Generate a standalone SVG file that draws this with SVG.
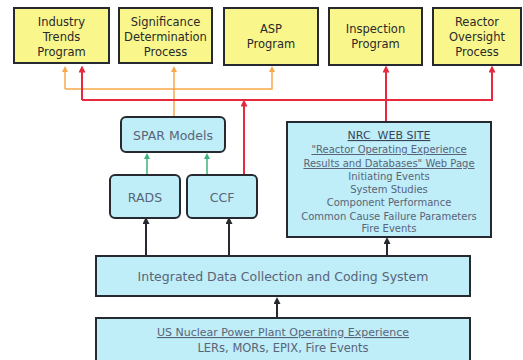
<svg xmlns="http://www.w3.org/2000/svg" width="523" height="360" viewBox="0 0 523 360">
<defs>
<style>
.y{fill:#f9f68c;stroke:#262a30;stroke-width:2}
.b{fill:#bfeef8;stroke:#262a30;stroke-width:2}
.tt{font-family:"DejaVu Sans",sans-serif;font-size:11.5px;fill:#2a2a2a;text-anchor:middle}
.bt{font-family:"DejaVu Sans",sans-serif;font-size:12.5px;fill:#5a6478;text-anchor:middle}
.nt{font-family:"DejaVu Sans",sans-serif;font-size:10px;fill:#5a6478;text-anchor:middle}
.u{text-decoration:underline}
.or{stroke:#f7a84a;stroke-width:1.5;fill:none}
.rd{stroke:#e8283c;stroke-width:2;fill:none}
.gr{stroke:#3cb47a;stroke-width:1.5;fill:none}
.bk{stroke:#262a30;stroke-width:2;fill:none}
</style>
<marker id="ao" markerWidth="6" markerHeight="6" refX="3" refY="3" orient="auto" markerUnits="userSpaceOnUse"><path d="M0,0L6,3L0,6z" fill="#f7a84a"/></marker>
<marker id="ar" markerWidth="7" markerHeight="7" refX="3.5" refY="3.5" orient="auto" markerUnits="userSpaceOnUse"><path d="M0,0L7,3.5L0,7z" fill="#e8283c"/></marker>
<marker id="ag" markerWidth="6" markerHeight="6" refX="3" refY="3" orient="auto" markerUnits="userSpaceOnUse"><path d="M0,0L6,3L0,6z" fill="#3cb47a"/></marker>
<marker id="ak" markerWidth="7" markerHeight="7" refX="4" refY="3.5" orient="auto" markerUnits="userSpaceOnUse"><path d="M0,0L7,3.5L0,7z" fill="#262a30"/></marker>
</defs>
<rect width="523" height="360" fill="#ffffff"/>
<g id="connectors">
<path class="or" d="M65,89V69" marker-end="url(#ao)"/>
<path class="or" d="M65,89H272V69" marker-end="url(#ao)"/>
<path class="or" d="M174,117V69" marker-end="url(#ao)"/>
<path class="rd" d="M82,100V69" marker-end="url(#ar)"/>
<path class="rd" d="M82,100H492V69" marker-end="url(#ar)"/>
<path class="rd" d="M386,122V69" marker-end="url(#ar)"/>
<path class="rd" d="M244,175V103" marker-end="url(#ar)"/>
<path class="gr" d="M147,175V156" marker-end="url(#ag)"/>
<path class="gr" d="M207,175V156" marker-end="url(#ag)"/>
<path class="bk" d="M146,255V220" marker-end="url(#ak)"/>
<path class="bk" d="M229,255V220" marker-end="url(#ak)"/>
<path class="bk" d="M387,255V240" marker-end="url(#ak)"/>
<path class="bk" d="M277,318V300" marker-end="url(#ak)"/>
</g>
<g id="industry-trends">
<rect class="y" x="14" y="8" width="95" height="55"/>
<text class="tt" x="61.5" y="26">Industry</text>
<text class="tt" x="61.5" y="41">Trends</text>
<text class="tt" x="61.5" y="56">Program</text>
</g>
<g id="sdp">
<rect class="y" x="119" y="8" width="93" height="55"/>
<text class="tt" x="165.5" y="26">Significance</text>
<text class="tt" x="165.5" y="41">Determination</text>
<text class="tt" x="165.5" y="56">Process</text>
</g>
<g id="asp">
<rect class="y" x="224" y="8" width="94" height="57"/>
<text class="tt" x="271" y="33">ASP</text>
<text class="tt" x="271" y="48">Program</text>
</g>
<g id="inspection">
<rect class="y" x="329" y="8" width="93" height="57"/>
<text class="tt" x="375.5" y="33">Inspection</text>
<text class="tt" x="375.5" y="48">Program</text>
</g>
<g id="rop">
<rect class="y" x="433" y="8" width="88" height="57"/>
<text class="tt" x="477" y="26">Reactor</text>
<text class="tt" x="477" y="41">Oversight</text>
<text class="tt" x="477" y="56">Process</text>
</g>
<g id="spar">
<rect class="b" x="121" y="117" width="104" height="35" rx="5"/>
<text class="bt" x="173" y="140">SPAR Models</text>
</g>
<g id="rads">
<rect class="b" x="110" y="175" width="70" height="43" rx="5"/>
<text class="bt" x="145" y="202">RADS</text>
</g>
<g id="ccf">
<rect class="b" x="187" y="175" width="70" height="43" rx="5"/>
<text class="bt" x="222" y="202">CCF</text>
</g>
<g id="nrc-web-site">
<rect class="b" x="287" y="122" width="204" height="115"/>
<text class="nt u" x="389" y="139" style="font-size:11px;fill:#3a4458" xml:space="preserve">NRC  WEB SITE</text>
<text class="nt u" x="389" y="153">"Reactor Operating Experience</text>
<text class="nt u" x="389" y="167">Results and Databases" Web Page</text>
<text class="nt" x="389" y="180">Initiating Events</text>
<text class="nt" x="389" y="193">System Studies</text>
<text class="nt" x="389" y="206">Component Performance</text>
<text class="nt" x="389" y="220">Common Cause Failure Parameters</text>
<text class="nt" x="389" y="232">Fire Events</text>
</g>
<g id="integrated">
<rect class="b" x="96" y="256" width="374" height="40"/>
<text class="bt" x="283" y="281">Integrated Data Collection and Coding System</text>
</g>
<g id="us-experience">
<rect class="b" x="96" y="318" width="374" height="45"/>
<text class="bt u" x="283" y="336" style="font-size:11px">US Nuclear Power Plant Operating Experience</text>
<text class="bt" x="283" y="352" style="font-size:11.5px">LERs, MORs, EPIX, Fire Events</text>
</g>
</svg>
